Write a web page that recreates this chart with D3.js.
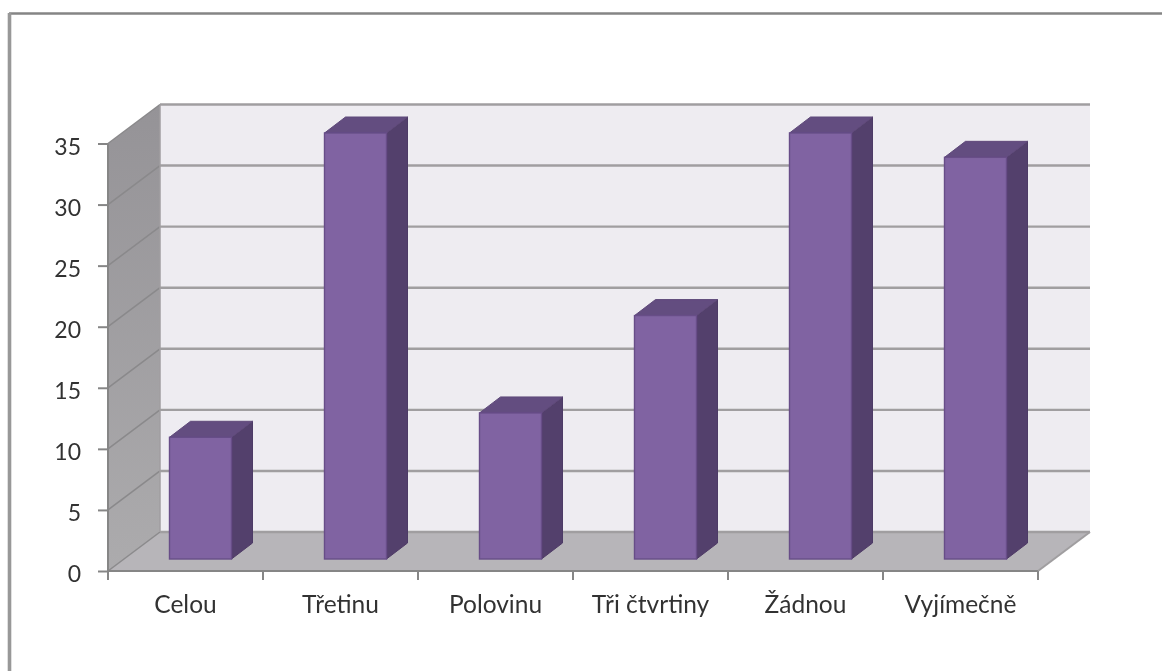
<!DOCTYPE html>
<html><head><meta charset="utf-8">
<script src="https://cdnjs.cloudflare.com/ajax/libs/d3/7.8.5/d3.min.js"></script>
<style>html,body{margin:0;padding:0;background:#fff}svg{display:block}</style>
</head><body><svg id="c" width="1162" height="671"></svg>
<script>
const categories = ["Celou","Třetinu","Polovinu","Tři čtvrtiny","Žádnou","Vyjímečně"];
const values = [10,35,12,20,35,33];
const yTicks = [0,5,10,15,20,25,30,35];

const svg = d3.select("#c");
const defs = svg.append("defs");
const blur = defs.append("filter").attr("id","soft")
  .attr("filterUnits","userSpaceOnUse").attr("x",0).attr("y",0).attr("width",1162).attr("height",671);
blur.append("feGaussianBlur").attr("stdDeviation",0.7);
const wallGrad = defs.append("linearGradient").attr("id","wall").attr("x1",0).attr("x2",0).attr("y1",0).attr("y2",1);
wallGrad.append("stop").attr("offset",0).attr("stop-color","#959397");
wallGrad.append("stop").attr("offset",1).attr("stop-color","#acabad");

const g = svg.append("g").attr("filter","url(#soft)");
g.append("rect").attr("width",1162).attr("height",671).attr("fill","#fff");

const x = d3.scaleBand().domain(categories).range([108,1038]);
const y = d3.scaleLinear().domain([0,35]).range([571,143.5]);
const yBar = d3.scaleLinear().domain([0,35]).range([559,133]);
const dx = 52, dy = -39;
const pts = a => a.map(p=>p.join(",")).join(" ");
const GRID = "#a09ea0", SIDE = "#8a898b", AX = "#868686";
const FONT = "Lato, Carlito, sans-serif";

// frame: only the top and left edges are visible in the picture
g.append("line").attr("x1",9).attr("x2",1162).attr("y1",13.5).attr("y2",13.5).attr("stroke","#858585").attr("stroke-width",2.6);
g.append("line").attr("x1",9.5).attr("x2",9.5).attr("y1",13).attr("y2",671).attr("stroke","#989898").attr("stroke-width",3.6);

const L = x.range()[0], R = x.range()[1], y0 = y(0), yT = y(35);
// walls
g.append("polygon").attr("points",pts([[L+dx,yT+dy],[R+dx,yT+dy],[R+dx,y0+dy],[L+dx,y0+dy]])).attr("fill","#eeecf1");
g.append("polygon").attr("points",pts([[L,yT],[L+dx,yT+dy],[L+dx,y0+dy],[L,y0]])).attr("fill","url(#wall)");
g.append("polygon").attr("points",pts([[L,y0],[L+dx,y0+dy],[R+dx,y0+dy],[R,y0]])).attr("fill","#b7b5b9");

// gridlines
yTicks.forEach(t=>{
  g.append("line").attr("stroke",SIDE).attr("stroke-width",1.5)
    .attr("x1",L).attr("y1",y(t)).attr("x2",L+dx).attr("y2",y(t)+dy);
  g.append("line").attr("stroke",GRID).attr("stroke-width",2.4)
    .attr("x1",L+dx).attr("y1",y(t)+dy).attr("x2",R+dx).attr("y2",y(t)+dy);
});
g.append("line").attr("x1",L+dx).attr("x2",L+dx).attr("y1",yT+dy).attr("y2",y0+dy).attr("stroke",GRID).attr("stroke-width",1.5);
g.append("line").attr("x1",R).attr("x2",R+dx).attr("y1",y0).attr("y2",y0+dy).attr("stroke",GRID).attr("stroke-width",2);

// axes
const axY = g.append("g").attr("transform",`translate(${L},0)`).call(d3.axisLeft(y).tickValues(yTicks).tickSize(10).tickPadding(17));
const axX = g.append("g").attr("transform",`translate(0,${y0})`).call(d3.axisBottom(x).tickValues(categories).tickSize(0).tickPadding(25));
[axY,axX].forEach(a=>{
  a.selectAll("path").attr("stroke",AX).attr("stroke-width",2);
  a.selectAll("line").attr("stroke",AX).attr("stroke-width",2);
  a.selectAll("text").attr("fill","#333").style("font-family",FONT);
});
axY.selectAll("text").style("font-size","23px").attr("dy","0.46em");
axX.selectAll("text").style("font-size","24.5px");
axY.select("path").attr("d",`M0,${yT}V${y0}`);
axX.select("path").attr("d",`M${L},0H${R}`);
[...categories.map(c=>x(c)),R].forEach(px=>{
  axX.append("line").attr("x1",px).attr("x2",px).attr("y1",0).attr("y2",9).attr("stroke",AX).attr("stroke-width",2);
});

// bars
const bw = 62, bdx = 21, bdy = -16, shift = 15;
const bars = g.selectAll("g.bar").data(categories.map((c,i)=>({c,v:values[i]}))).join("g").attr("class","bar");
const bl = d => x(d.c)+x.bandwidth()/2-bw/2+shift;
bars.append("polygon").attr("fill","#533f6c").attr("stroke","#4e3b66").attr("stroke-width",1)
  .attr("points",d=>pts([[bl(d)+bw,yBar(d.v)],[bl(d)+bw+bdx,yBar(d.v)+bdy],[bl(d)+bw+bdx,yBar(0)+bdy],[bl(d)+bw,yBar(0)]]));
bars.append("polygon").attr("fill","#644d80").attr("stroke","#5f4a7a").attr("stroke-width",1)
  .attr("points",d=>pts([[bl(d),yBar(d.v)],[bl(d)+bdx,yBar(d.v)+bdy],[bl(d)+bw+bdx,yBar(d.v)+bdy],[bl(d)+bw,yBar(d.v)]]));
bars.append("rect").attr("fill","#8064a2").attr("stroke","#674d88").attr("stroke-width",1.4)
  .attr("x",bl).attr("y",d=>yBar(d.v)).attr("width",bw).attr("height",d=>yBar(0)-yBar(d.v));
</script></body></html>
